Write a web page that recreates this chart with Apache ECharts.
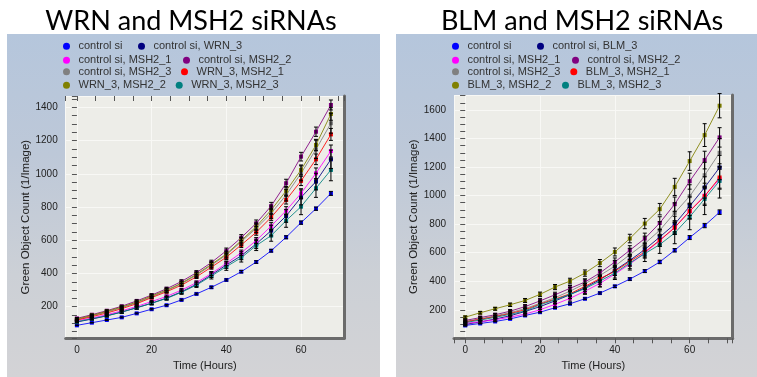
<!DOCTYPE html>
<html><head><meta charset="utf-8">
<script src="https://cdn.jsdelivr.net/npm/echarts@6/dist/echarts.min.js"></script>
<style>
html,body{margin:0;padding:0;background:#fff;width:757px;height:377px;overflow:hidden}
.panel{position:absolute;top:34px;height:343px;background:linear-gradient(to bottom,#b5c6dc 0%,#bdc8d8 35%,#ccd0d6 70%,#d3d3d6 100%)}
#chart{position:absolute;left:0;top:0;width:757px;height:377px}
</style></head>
<body>
<div class="panel" style="left:7px;width:373px"></div>
<div class="panel" style="left:396px;width:361px"></div>
<div id="chart"></div>
<script>
// ---------- data ----------
const timesHours = [0,4,8,12,16,20,24,28,32,36,40,44,48,52,56,60,64,68];
const namesWRN = ['control si','control si, WRN_3','control si, MSH2_1','control si, MSH2_2','control si, MSH2_3','WRN_3, MSH2_1','WRN_3, MSH2_2','WRN_3, MSH2_3'];
const namesBLM = ['control si','control si, BLM_3','control si, MSH2_1','control si, MSH2_2','control si, MSH2_3','BLM_3, MSH2_1','BLM_3, MSH2_2','BLM_3, MSH2_3'];
const seriesColors = ['#0000ff','#000080','#ff00ff','#800080','#808080','#ff0000','#808000','#008080'];
const yTicksWRN = [200,400,600,800,1000,1200,1400];
const yTicksBLM = [200,400,600,800,1000,1200,1400,1600];
const xTicks = [0,20,40,60];

// WRN panel values
const wrnControlSi      = [88,104,120,136,160,185,209,241,277,317,361,411,469,537,618,706,790,882];
const wrnControlWrn3    = [108,126,145,168,194,221,252,290,335,392,451,507,578,658,746,858,953,1087];
const wrnControlMsh2_1  = [115,132,152,175,202,231,262,300,345,400,461,525,598,686,778,882,1003,1137];
const wrnControlMsh2_2  = [130,152,176,203,235,270,308,352,405,466,537,616,702,806,943,1103,1253,1414];
const wrnControlMsh2_3  = [122,145,168,194,224,260,296,338,390,450,511,592,672,762,872,1003,1147,1304];
const wrnWrn3Msh2_1     = [120,140,162,188,218,255,290,330,380,438,498,572,648,738,842,957,1087,1237];
const wrnWrn3Msh2_2     = [126,148,172,198,228,265,300,342,395,455,517,598,682,782,897,1023,1173,1360];
const wrnWrn3Msh2_3     = [110,128,146,168,194,221,250,287,330,385,441,495,568,628,718,802,913,1023];
// WRN panel error bars (+/-)
const wrnErrControlSi     = [2,2,3,3,3,4,4,5,5,6,6,7,8,8,9,10,10,12];
const wrnErrControlWrn3   = [5,6,6,7,8,9,10,12,14,16,20,24,28,32,38,45,50,55];
const wrnErrControlMsh2_1 = [4,5,5,6,6,7,8,9,10,12,14,16,18,20,24,28,32,36];
const wrnErrControlMsh2_2 = [5,5,6,6,7,8,9,10,12,14,16,18,20,22,24,26,28,30];
const wrnErrControlMsh2_3 = [5,6,6,7,8,9,10,12,14,16,18,22,26,30,35,45,55,60];
const wrnErrWrn3Msh2_1    = [4,5,5,6,6,7,8,9,10,12,14,16,18,20,24,28,32,36];
const wrnErrWrn3Msh2_2    = [5,5,6,7,8,9,10,12,14,16,18,20,22,24,26,30,34,38];
const wrnErrWrn3Msh2_3    = [5,6,6,7,8,9,10,12,14,18,22,26,30,34,40,48,55,65];

// BLM panel values
const blmControlSi      = [90,104,118,136,160,183,214,242,277,317,364,415,471,535,617,706,790,884];
const blmControlBlm3    = [97,115,135,158,188,222,262,305,355,411,476,546,622,710,800,926,1057,1197];
const blmControlMsh2_1  = [105,116,130,148,170,200,238,280,330,385,450,520,598,685,776,890,1000,1115];
const blmControlMsh2_2  = [125,145,165,190,222,262,305,350,394,458,535,617,699,808,940,1101,1249,1408];
const blmControlMsh2_3  = [118,137,157,180,208,245,285,330,383,440,506,586,664,757,879,996,1143,1300];
const blmBlm3Msh2_1     = [115,133,152,174,200,240,275,312,364,418,469,539,605,687,776,891,996,1127];
const blmBlm3Msh2_2     = [148,179,207,235,265,308,359,401,457,527,605,699,804,905,1061,1242,1424,1630];
const blmBlm3Msh2_3     = [110,128,147,168,192,235,270,308,348,401,457,528,593,657,738,851,977,1103];
// BLM panel error bars (+/-)
const blmErrControlSi     = [3,3,3,4,4,5,5,6,6,7,8,9,10,12,12,14,15,16];
const blmErrControlBlm3   = [10,12,14,16,18,20,22,25,28,32,36,40,45,50,55,65,75,85];
const blmErrControlMsh2_1 = [8,9,10,12,14,16,18,20,22,25,28,32,36,40,45,52,60,70];
const blmErrControlMsh2_2 = [8,9,10,12,14,16,18,20,22,25,28,32,38,44,50,56,62,68];
const blmErrControlMsh2_3 = [10,12,14,16,18,22,25,28,32,36,40,45,52,60,70,80,90,100];
const blmErrBlm3Msh2_1    = [8,9,10,12,14,16,18,20,22,25,28,32,36,42,48,56,65,75];
const blmErrBlm3Msh2_2    = [8,9,10,12,14,16,18,20,22,25,28,30,36,40,60,65,80,85];
const blmErrBlm3Msh2_3    = [10,12,14,16,18,22,26,30,35,40,45,50,55,62,75,90,110,120];

// ---------- build ----------
const wrnValues = [wrnControlSi,wrnControlWrn3,wrnControlMsh2_1,wrnControlMsh2_2,wrnControlMsh2_3,wrnWrn3Msh2_1,wrnWrn3Msh2_2,wrnWrn3Msh2_3];
const wrnErrors = [wrnErrControlSi,wrnErrControlWrn3,wrnErrControlMsh2_1,wrnErrControlMsh2_2,wrnErrControlMsh2_3,wrnErrWrn3Msh2_1,wrnErrWrn3Msh2_2,wrnErrWrn3Msh2_3];
const blmValues = [blmControlSi,blmControlBlm3,blmControlMsh2_1,blmControlMsh2_2,blmControlMsh2_3,blmBlm3Msh2_1,blmBlm3Msh2_2,blmBlm3Msh2_3];
const blmErrors = [blmErrControlSi,blmErrControlBlm3,blmErrControlMsh2_1,blmErrControlMsh2_2,blmErrControlMsh2_3,blmErrBlm3Msh2_1,blmErrBlm3Msh2_2,blmErrBlm3Msh2_3];

const FONT = 'Liberation Sans, Arial, sans-serif';
const gridBg = '#ededE8';
const splitCol = '#f8f8f5';
const shadowCol = '#6b6b6b';

const panels = [
  {grid:{left:65.7, top:96, width:278.3, height:242.3}, ymin:10, ymax:1468, yTicks:yTicksWRN,
   names:namesWRN, values:wrnValues, errors:wrnErrors, title:'WRN and MSH2 siRNAs', titleX:191,
   legendPos:[[70,46.7],[145,46.7],[70,60.7],[190,60.7],[70,72.3],[188,72.3],[70,85.7],[182.7,85.7]]},
  {grid:{left:454, top:95, width:278.7, height:243.3}, ymin:0, ymax:1705, yTicks:yTicksBLM,
   names:namesBLM, values:blmValues, errors:blmErrors, title:'BLM and MSH2 siRNAs', titleX:582,
   legendPos:[[459,46.7],[544,46.7],[459,60.7],[579,60.7],[459,72.3],[577.3,72.3],[459,85.7],[569,85.7]]}
];

const grid=[], xAxis=[], yAxis=[], series=[], legend=[], graphic=[];

function errRender(params, api){
  const x = api.value(0), y = api.value(1), e = api.value(2);
  const top = api.coord([x, y + e]);
  const bot = api.coord([x, y - e]);
  const hw = 2;
  const st = {stroke:'#000', lineWidth:1};
  return {type:'group', children:[
    {type:'line', shape:{x1:top[0], y1:top[1], x2:bot[0], y2:bot[1]}, style:st},
    {type:'line', shape:{x1:top[0]-hw, y1:top[1], x2:top[0]+hw, y2:top[1]}, style:st},
    {type:'line', shape:{x1:bot[0]-hw, y1:bot[1], x2:bot[0]+hw, y2:bot[1]}, style:st}
  ]};
}

panels.forEach((p, gi) => {
  grid.push(Object.assign({show:true, backgroundColor:gridBg, borderWidth:0}, p.grid));
  const xi = xAxis.length, yi = yAxis.length;
  // main x axis: labels + split lines
  xAxis.push({type:'value', gridIndex:gi, min:-3, max:71.5, minInterval:20, maxInterval:20, splitNumber:4,
    axisLine:{show:true, onZero:false, lineStyle:{color:shadowCol, width:3}},
    axisTick:{show:false},
    axisLabel:{color:'#222', fontSize:10, fontFamily:FONT, margin:7, showMinLabel:false, showMaxLabel:false,
      formatter:v => xTicks.indexOf(v) >= 0 ? String(v) : ''},
    splitLine:{show:true, lineStyle:{color:splitCol, width:1}},
    name:'Time (Hours)', nameLocation:'middle', nameGap:19,
    nameTextStyle:{color:'#222', fontSize:11, fontFamily:FONT}});
  // minor x ticks
  xAxis.push({type:'value', gridIndex:gi, min:-3, max:71.5, minInterval:5, maxInterval:5, splitNumber:15,
    axisLine:{show:false}, axisLabel:{show:false}, splitLine:{show:false},
    axisTick:{show:true, inside:true, length:5, lineStyle:{color:'#555'}}});
  // main y axis
  yAxis.push({type:'value', gridIndex:gi, min:p.ymin, max:p.ymax, minInterval:200, maxInterval:200, splitNumber:8,
    axisLine:{show:false}, axisTick:{show:false},
    axisLabel:{color:'#222', fontSize:10, fontFamily:FONT, margin:8, showMinLabel:false, showMaxLabel:false,
      formatter:v => p.yTicks.indexOf(v) >= 0 ? String(v) : ''},
    splitLine:{show:true, lineStyle:{color:splitCol, width:1}},
    name:'Green Object Count (1/Image)', nameLocation:'middle', nameGap:33,
    nameTextStyle:{color:'#222', fontSize:11.5, fontFamily:FONT}});
  // minor y ticks
  yAxis.push({type:'value', gridIndex:gi, min:p.ymin, max:p.ymax, minInterval:50, maxInterval:50, splitNumber:30,
    axisLine:{show:false}, axisLabel:{show:false}, splitLine:{show:false},
    axisTick:{show:true, inside:true, length:5, lineStyle:{color:'#555'}}});
  // right shadow line
  yAxis.push({type:'value', gridIndex:gi, position:'right', min:p.ymin, max:p.ymax,
    axisLine:{show:true, onZero:false, lineStyle:{color:shadowCol, width:3}},
    axisTick:{show:false}, axisLabel:{show:false}, splitLine:{show:false}});

  p.names.forEach((nm, k) => {
    series.push({type:'line', name:nm, xAxisIndex:xi, yAxisIndex:yi, color:seriesColors[k],
      data: timesHours.map((t, j) => [t, p.values[k][j]]),
      symbol:'rect', symbolSize:4, showSymbol:true,
      lineStyle:{width:1, color:seriesColors[k], opacity:0.85},
      itemStyle:{color:seriesColors[k]}, z:2, animation:false});
  });
  p.names.forEach((nm, k) => {
    series.push({type:'custom', name:nm + ' err', xAxisIndex:xi, yAxisIndex:yi,
      data: timesHours.map((t, j) => [t, p.values[k][j], p.errors[k][j]]),
      encode:{x:0, y:1}, renderItem:errRender, z:3, silent:true, animation:false});
  });

  p.names.forEach((nm, k) => {
    const [cx, cy] = p.legendPos[k];
    legend.push({data:[nm], left:cx - 7, top:cy - 6, padding:0, itemWidth:14, itemHeight:7,
      icon:'circle', symbolKeepAspect:true, selectedMode:false, itemGap:0,
      textStyle:{color:'#333', fontSize:11, fontFamily:FONT}});
  });

  graphic.push({type:'text', x:p.titleX, y:21,
    style:{text:p.title, fill:'#000', font:'27px Lato, "Open Sans", sans-serif', textAlign:'center', textVerticalAlign:'middle', verticalAlign:'middle'}});
});

const chart = echarts.init(document.getElementById('chart'), null, {renderer:'canvas'});
chart.setOption({backgroundColor:'transparent', animation:false, grid, xAxis, yAxis, series, legend, graphic});
</script>
</body></html>
